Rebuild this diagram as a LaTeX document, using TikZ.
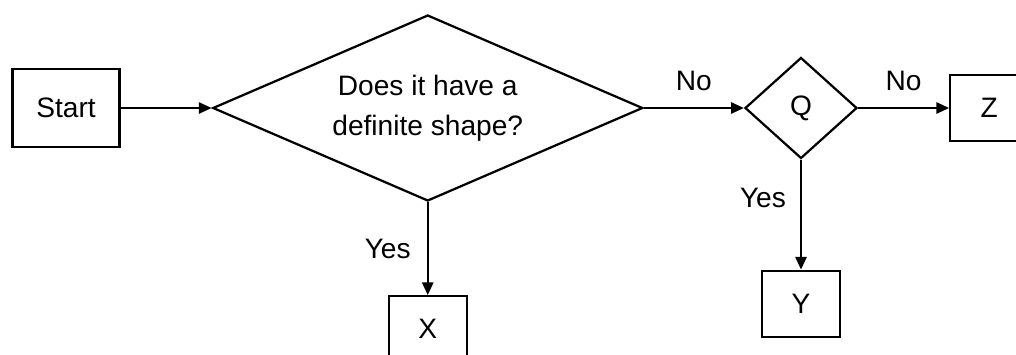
\documentclass[tikz,border=0pt]{standalone}
\usepackage{fontspec}
\setmainfont{Liberation Sans}
\usetikzlibrary{positioning,arrows.meta,shapes.geometric}

\begin{document}
\begin{tikzpicture}[>={Triangle[length=3.2mm,width=2.8mm]},node distance=2.3cm and 2.3cm,
  font=\fontsize{20}{28.5}\selectfont,
  box/.style={draw,line width=1.6pt,minimum width=1.95cm,minimum height=1.65cm,inner sep=0pt},
  decision/.style={draw,diamond,line width=1.6pt,inner sep=0pt,align=center},
  conn/.style={->,line width=1.6pt},
  lbl/.style={inner sep=0pt}]
\useasboundingbox (0,0) rectangle (25.4,-8.85);
\node[box,minimum width=2.675cm,minimum height=1.95cm] (start) at (1.65,-2.7) {Start};
\node[decision,aspect=2.3,minimum width=10.75cm,minimum height=4.65cm,right=2.275cm of start] (shape) {Does it have a\\definite shape?};
\node[decision,minimum width=2.8cm,minimum height=2.525cm,right=2.5cm of shape] (q) {Q};
\node[box,right=2.275cm of q] (z) {Z};
\node[box,below=2.325cm of shape] (x) {X};
\node[box,below=2.75cm of q] (y) {Y};
\draw[conn] (start) -- (shape);
\draw[conn] (shape) -- node[lbl,above=4mm]{No} (q);
\draw[conn] (q) -- node[lbl,above=4mm]{No} (z);
\draw[conn] (shape) -- node[lbl,left=4mm]{Yes} (x);
\draw[conn] (q) -- node[lbl,pos=0.35,left=3.5mm]{Yes} (y);
\end{tikzpicture}
\end{document}
